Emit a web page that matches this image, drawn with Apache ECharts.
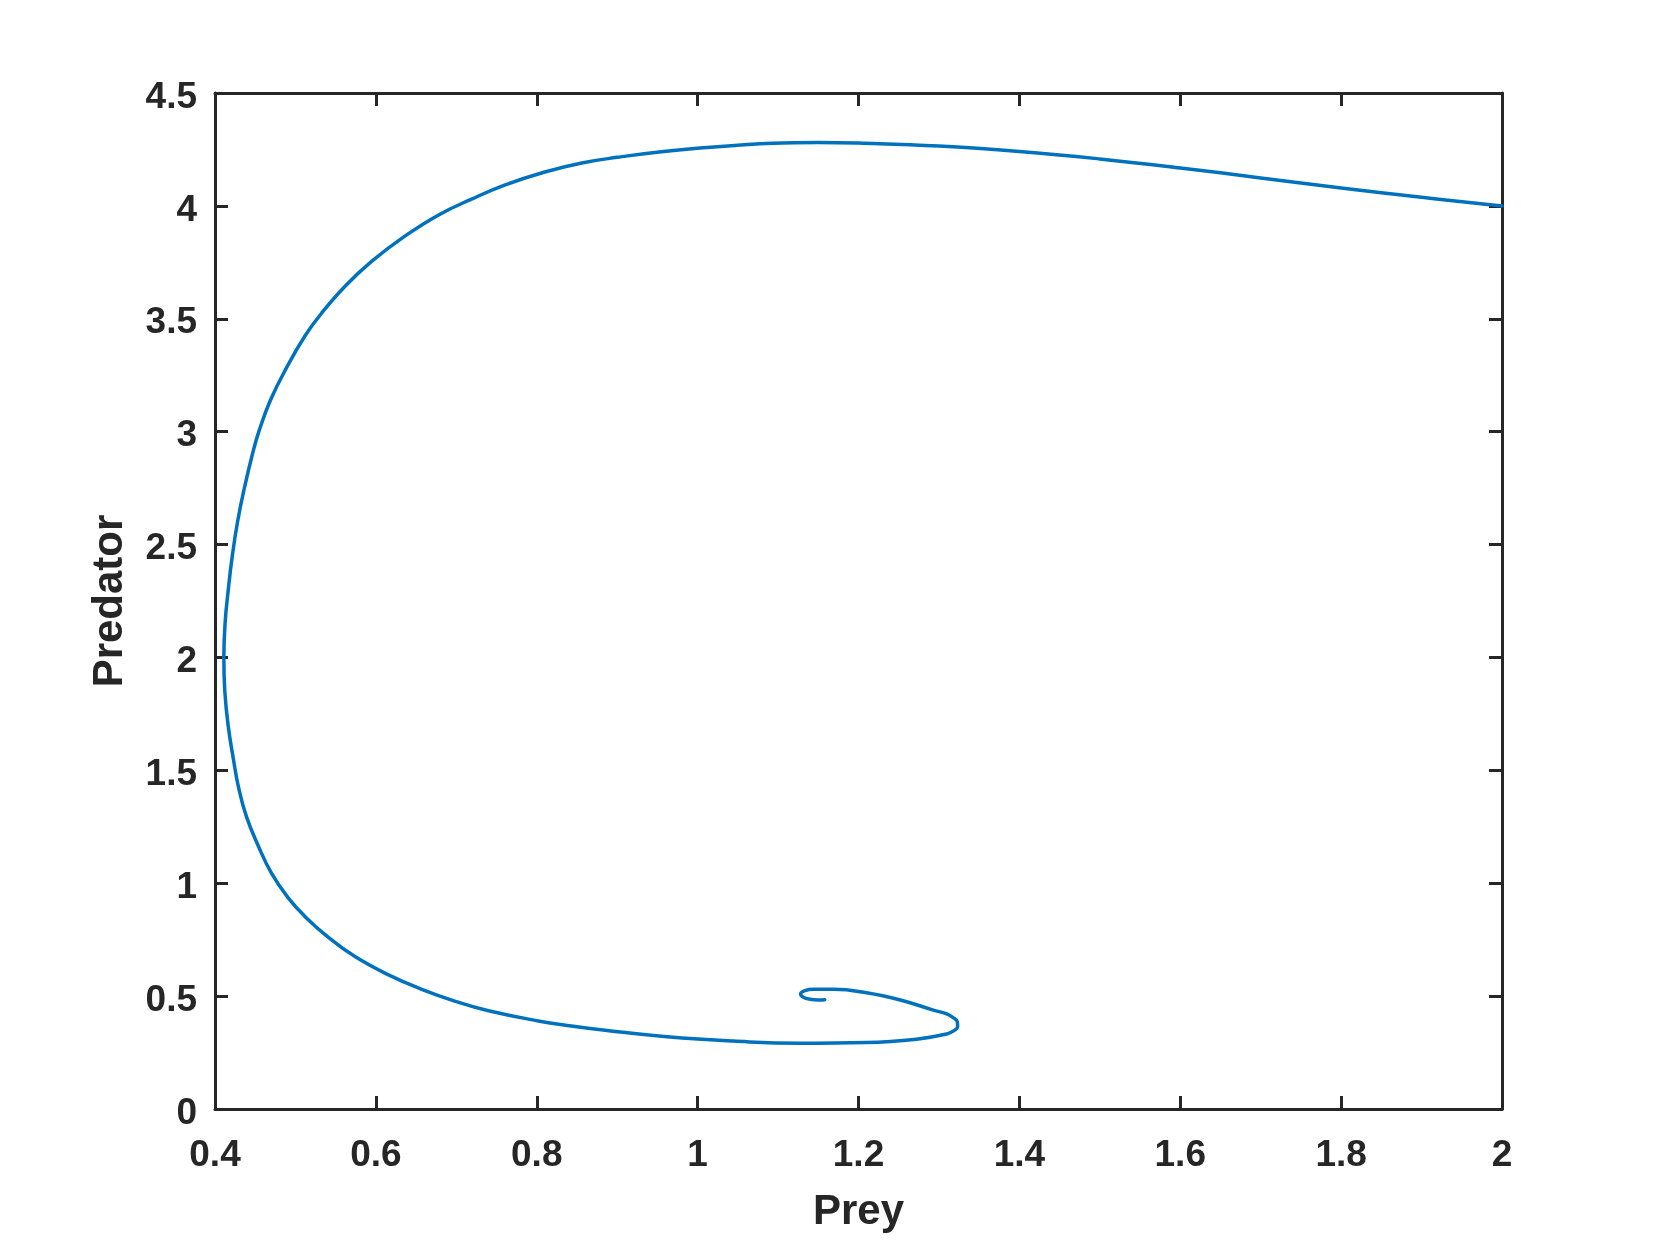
<!DOCTYPE html>
<html>
<head>
<meta charset="utf-8">
<script src="https://cdn.jsdelivr.net/npm/echarts@6/dist/echarts.min.js"></script>
<style>
  html, body { margin: 0; padding: 0; background: #ffffff; }
  #chart { width: 1661px; height: 1246px; }
</style>
</head>
<body>
<div id="chart"></div>
<script>
// Trajectory (Prey, Predator), in drawing order
const preyValues = [
  2.000, 1.900, 1.800, 1.700, 1.600, 1.500, 1.400, 1.300, 1.200, 1.150,
  1.093, 1.021, 0.955, 0.900, 0.856, 0.810, 0.760, 0.719, 0.678, 0.636,
  0.595, 0.562, 0.533, 0.512, 0.490, 0.469, 0.4545, 0.4465, 0.4365, 0.428,
  0.4215, 0.4165, 0.4125, 0.411, 0.4122, 0.4163, 0.423, 0.429, 0.439, 0.454,
  0.470, 0.491, 0.512, 0.541, 0.574, 0.615, 0.657, 0.698, 0.740, 0.802,
  0.843, 0.885, 0.962, 1.044, 1.127, 1.210, 1.272, 1.3096, 1.3187, 1.3232,
  1.3228, 1.3171, 1.3096, 1.293, 1.252, 1.210, 1.169, 1.144, 1.1335, 1.128,
  1.1314, 1.1397, 1.150, 1.158
];
const predatorValues = [
  4.000, 4.038, 4.079, 4.124, 4.168, 4.208, 4.241, 4.265, 4.278, 4.281,
  4.277, 4.261, 4.240, 4.215, 4.190, 4.150, 4.092, 4.030, 3.960, 3.866,
  3.755, 3.645, 3.527, 3.425, 3.290, 3.140, 3.000, 2.900, 2.750, 2.600,
  2.450, 2.300, 2.150, 2.000, 1.850, 1.700, 1.547, 1.429, 1.296, 1.164,
  1.046, 0.935, 0.852, 0.760, 0.675, 0.595, 0.530, 0.478, 0.435, 0.390,
  0.368, 0.349, 0.320, 0.301, 0.291, 0.294, 0.309, 0.332, 0.347, 0.364,
  0.387, 0.406, 0.421, 0.438, 0.483, 0.515, 0.530, 0.530, 0.524, 0.509,
  0.495, 0.486, 0.483, 0.484
];
const xTickLabels = ['0.4', '0.6', '0.8', '1', '1.2', '1.4', '1.6', '1.8', '2'];
const yTickLabels = ['0', '0.5', '1', '1.5', '2', '2.5', '3', '3.5', '4', '4.5'];
const xName = 'Prey';
const yName = 'Predator';

const points = preyValues.map((x, i) => [x, predatorValues[i]]);
const axisColor = '#262626';
const fontFamily = '"Liberation Sans", Arial, Helvetica, sans-serif';

function lab(list, rich) {
  return function (v) {
    const s = String(Number(v.toFixed(2)));
    if (list.indexOf(s) < 0) return '';
    return rich ? '{t|' + s + '}' : s;
  };
}

const commonLine = { show: true, onZero: false, lineStyle: { color: axisColor, width: 3 } };
const commonTick = { show: true, inside: true, length: 13, lineStyle: { color: axisColor, width: 3 } };
const labelFont = { color: axisColor, fontSize: 37, fontWeight: 'bold', fontFamily: fontFamily };

const chart = echarts.init(document.getElementById('chart'), null, { renderer: 'canvas' });
chart.setOption({
  backgroundColor: '#ffffff',
  animation: false,
  grid: { left: 215, right: 159, top: 93, bottom: 137, containLabel: false },
  xAxis: [
    {
      type: 'value', min: 0.4, max: 2, interval: 0.2, position: 'bottom',
      name: xName, nameLocation: 'middle', nameGap: 82,
      nameTextStyle: { color: axisColor, fontSize: 42, fontWeight: 'bold', fontFamily: fontFamily },
      axisLine: commonLine, axisTick: commonTick,
      axisLabel: Object.assign({ margin: 28, formatter: lab(xTickLabels, false) }, labelFont),
      splitLine: { show: false }
    },
    {
      type: 'value', min: 0.4, max: 2, interval: 0.2, position: 'top',
      axisLine: commonLine, axisTick: commonTick,
      axisLabel: { show: false }, splitLine: { show: false }
    }
  ],
  yAxis: [
    {
      type: 'value', min: 0, max: 4.5, interval: 0.5, position: 'left',
      name: yName, nameLocation: 'middle', nameGap: 84, nameRotate: 90,
      nameTextStyle: { color: axisColor, fontSize: 42, fontWeight: 'bold', fontFamily: fontFamily },
      axisLine: commonLine, axisTick: commonTick,
      axisLabel: Object.assign({
        margin: 18, formatter: lab(yTickLabels, true),
        rich: { t: Object.assign({ padding: [9, 0, 0, 0] }, labelFont) }
      }, labelFont),
      splitLine: { show: false }
    },
    {
      type: 'value', min: 0, max: 4.5, interval: 0.5, position: 'right',
      axisLine: commonLine, axisTick: commonTick,
      axisLabel: { show: false }, splitLine: { show: false }
    }
  ],
  series: [
    {
      type: 'line',
      data: points,
      xAxisIndex: 0, yAxisIndex: 0,
      showSymbol: false,
      smooth: 0.45,
      clip: false,
      lineStyle: { color: '#0072BD', width: 3.5, cap: 'round', join: 'round' },
      z: 1
    }
  ]
});
</script>
</body>
</html>
